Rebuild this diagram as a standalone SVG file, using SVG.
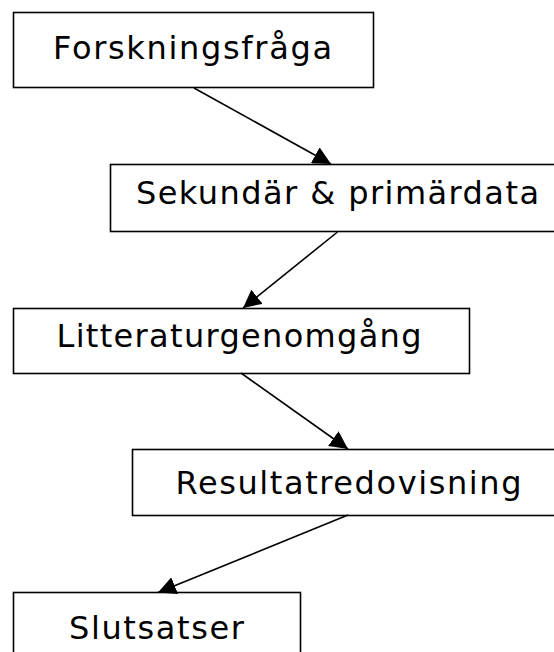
<svg xmlns="http://www.w3.org/2000/svg" width="554" height="652" viewBox="0 0 554 652">
<style>
.box{fill:#fff;stroke:#000;stroke-width:1.6}
.lbl{font-family:"DejaVu Sans",Verdana,sans-serif;font-size:32px;fill:#000}
.edge{stroke:#000;stroke-width:1.6;fill:none;marker-end:url(#ah)}
</style>
<defs>
<marker id="ah" viewBox="0 0 18 18" refX="18" refY="9" markerWidth="18" markerHeight="18" markerUnits="userSpaceOnUse" orient="auto">
<path d="M0,0 L18,9 L0,18 Z" fill="#000"/>
</marker>
</defs>
<rect width="554" height="652" fill="#fff"/>
<g id="n1"><rect class="box" x="13.5" y="12.5" width="360" height="75"/><text class="lbl" x="53" y="59" textLength="279" lengthAdjust="spacing">Forskningsfråga</text></g>
<g id="n2"><rect class="box" x="110.5" y="164.5" width="460" height="67"/><text class="lbl" x="136" y="204" textLength="403" lengthAdjust="spacing">Sekundär &amp; primärdata</text></g>
<g id="n3"><rect class="box" x="13.5" y="308.5" width="456" height="65"/><text class="lbl" x="56.5" y="347" textLength="365" lengthAdjust="spacing">Litteraturgenomgång</text></g>
<g id="n4"><rect class="box" x="132.5" y="449.5" width="440" height="66"/><text class="lbl" x="175.5" y="494" textLength="346" lengthAdjust="spacing">Resultatredovisning</text></g>
<g id="n5"><rect class="box" x="13.5" y="592.5" width="287" height="80"/><text class="lbl" x="69" y="639" textLength="175" lengthAdjust="spacing">Slutsatser</text></g>
<g id="edges">
<line class="edge" x1="194" y1="88" x2="331" y2="164"/>
<line class="edge" x1="337.5" y1="232" x2="243" y2="308"/>
<line class="edge" x1="241" y1="373" x2="348" y2="449"/>
<line class="edge" x1="348" y1="515" x2="158" y2="592.5"/>
</g>
</svg>
